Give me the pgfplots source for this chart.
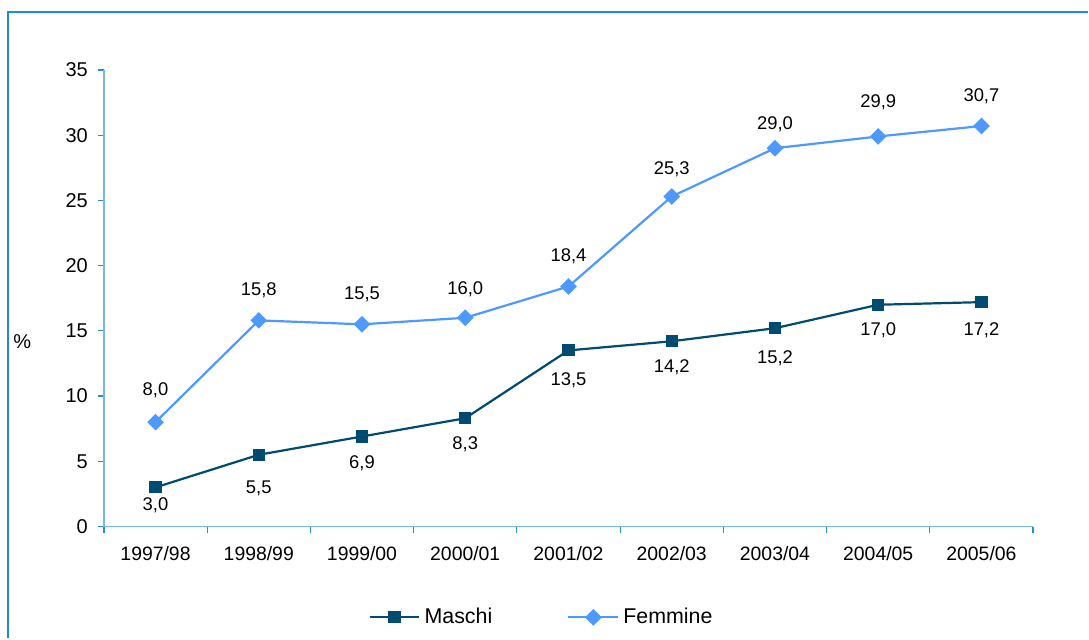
\documentclass[border=0pt]{standalone}
\usepackage{pgfplots}
\pgfplotsset{compat=1.18}
\usepackage{fontspec}
\setmainfont{Liberation Sans}
\definecolor{framecol}{RGB}{30,140,208}
\definecolor{axiscol}{RGB}{120,185,228}
\definecolor{tickcol}{RGB}{40,140,205}
\definecolor{maschi}{RGB}{0,76,112}
\definecolor{femmine}{RGB}{77,153,255}
\begin{document}
\begin{tikzpicture}[x=0.5pt,y=0.5pt]
\path (0,0) rectangle (1089,639);
\draw[framecol, line width=1pt] (8,0) -- (8,627) -- (1089,627);
\begin{axis}[
    overlay,
    at={(52pt,56pt)}, anchor=south west,
    scale only axis, width=465pt, height=228.5pt,
    xmin=-0.5, xmax=8.5, ymin=0, ymax=35,
    axis x line*=bottom, axis y line*=left,
    axis line style={-, draw=axiscol, line width=0.8pt},
    tick align=outside,
    xtick={0,...,8},
    xticklabels={1997/98,1998/99,1999/00,2000/01,2001/02,2002/03,2003/04,2004/05,2005/06},
    major x tick style={draw=none},
    minor xtick={-0.5,0.5,...,8.5},
    minor tick length=3pt,
    minor x tick style={draw=tickcol, line width=0.6pt},
    ytick={0,5,...,35},
    major tick length=3pt,
    major y tick style={draw=tickcol, line width=0.6pt},
    xticklabel style={font=\fontsize{9.7}{11}\selectfont, yshift=-3.5pt},
    yticklabel style={font=\fontsize{10}{12}\selectfont, xshift=-1.5pt},
    /pgf/number format/assume math mode=true,
    legend columns=2,
    legend style={draw=none, fill=none, at={(0.472,-0.199)}, anchor=center,
        font=\fontsize{10.7}{12}\selectfont,
        /tikz/every even column/.append style={column sep=35.5pt}},
    legend image code/.code={\draw[mark repeat=2,mark phase=2]
        plot coordinates {(0pt,0pt) (12.5pt,0pt) (25pt,0pt)};},
    clip=false,
]
\addplot[color=maschi, line width=1.1pt, mark=square*, mark size=2.5pt]
    coordinates {(0,3.0)(1,5.5)(2,6.9)(3,8.3)(4,13.5)(5,14.2)(6,15.2)(7,17.0)(8,17.2)};
\addlegendentry{Maschi}
\addplot[color=femmine, line width=1.1pt, mark=square*, mark size=2.4pt,
    mark options={rotate=45}]
    coordinates {(0,8.0)(1,15.8)(2,15.5)(3,16.0)(4,18.4)(5,25.3)(6,29.0)(7,29.9)(8,30.7)};
\addlegendentry{Femmine}
% data labels, placed where the reference puts them
\addplot[forget plot, draw=none, mark=none, point meta=explicit,
    nodes near coords={\pgfmathprintnumber[fixed,fixed zerofill,precision=1,use comma]{\pgfplotspointmeta}},
    nodes near coords style={font=\fontsize{9.2}{11}\selectfont, text=black, anchor=center}]
    coordinates {(0,1.61)[3.0] (1,2.91)[5.5] (2,4.88)[6.9] (3,6.28)[8.3] (4,11.2)[13.5]
                 (5,12.23)[14.2] (6,12.89)[15.2] (7,15.06)[17.0] (8,15.06)[17.2]};
\addplot[forget plot, draw=none, mark=none, point meta=explicit,
    nodes near coords={\pgfmathprintnumber[fixed,fixed zerofill,precision=1,use comma]{\pgfplotspointmeta}},
    nodes near coords style={font=\fontsize{9.2}{11}\selectfont, text=black, anchor=center}]
    coordinates {(0,10.44)[8.0] (1,18.10)[15.8] (2,17.77)[15.5] (3,18.15)[16.0] (4,20.70)[18.4]
                 (5,27.40)[25.3] (6,30.86)[29.0] (7,32.50)[29.9] (8,32.95)[30.7]};
\node[font=\fontsize{10}{12}\selectfont] at (rel axis cs:-0.088,0.405) {\%};
\end{axis}
\end{tikzpicture}
\end{document}
